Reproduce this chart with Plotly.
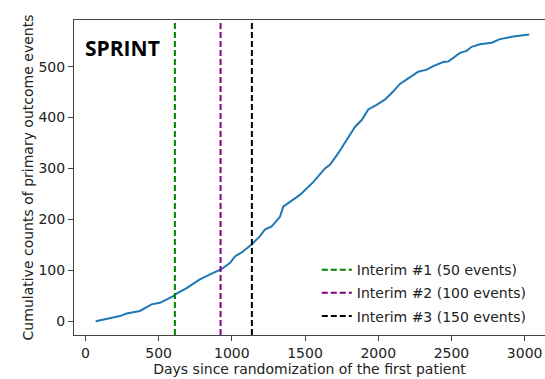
import plotly.graph_objects as go

# Cumulative primary-outcome events by study day
days = [70, 236, 281, 372, 452, 509, 600, 611, 691, 782, 873, 923, 987, 1021,
        1067, 1089, 1137, 1192, 1226, 1272, 1329, 1351, 1397, 1443, 1465, 1556,
        1636, 1670, 1727, 1784, 1842, 1887, 1932, 1989, 2045, 2102, 2148, 2205,
        2273, 2331, 2376, 2444, 2478, 2558, 2604, 2638, 2695, 2775, 2831, 2922,
        3031]
events = [0, 10, 15, 20, 33, 36, 49, 52, 65, 82, 95, 101, 114, 127,
          135, 140, 151, 167, 180, 186, 205, 225, 235, 245, 248, 273,
          300, 307, 330, 356, 382, 395, 416, 425, 435, 451, 466, 477,
          490, 494, 501, 509, 510, 527, 531, 539, 544, 547, 554, 559,
          563]

# Interim analyses
interim_days = [611, 923, 1137]
interim_names = ["Interim #1 (50 events)", "Interim #2 (100 events)",
                 "Interim #3 (150 events)"]
interim_colors = ["green", "purple", "black"]

x_range = [-78, 3139]
y_range = [-27.2, 591.6]

FONT = "DejaVu Sans"
FS = 14

fig = go.Figure()
fig.add_trace(go.Scatter(x=days, y=events, mode="lines",
                         line=dict(color="#1f77b4", width=2),
                         showlegend=False))

for d, name, col in zip(interim_days, interim_names, interim_colors):
    fig.add_trace(go.Scatter(x=[d, d], y=y_range, mode="lines", name=name,
                             legendgroup=name,
                             line=dict(color=col, width=2, dash="6px,3px")))

fig.add_annotation(text="<b>SPRINT</b>", x=0.019, y=0.911, xref="paper",
                   yref="paper", xanchor="left", yanchor="middle",
                   showarrow=False,
                   font=dict(family="Open Sans", size=21, color="black"))

axis_common = dict(showgrid=False, zeroline=False, showline=True,
                   linecolor="#444", linewidth=1, ticks="outside", ticklen=5,
                   tickwidth=1, tickcolor="#444",
                   tickfont=dict(family=FONT, size=FS, color="#222"))

fig.update_xaxes(range=x_range, tickvals=[0, 500, 1000, 1500, 2000, 2500, 3000],
                 mirror=True,
                 title=dict(text="Days since randomization of the first patient",
                            font=dict(family=FONT, size=FS, color="#222"),
                            standoff=4),
                 **axis_common)
fig.update_yaxes(range=y_range, tickvals=[0, 100, 200, 300, 400, 500],
                 title=dict(text="Cumulative counts of primary outcome events",
                            font=dict(family=FONT, size=FS, color="#222"),
                            standoff=1),
                 **axis_common)

fig.update_layout(
    width=545, height=379,
    margin=dict(l=74, r=0, t=20, b=43.5),
    plot_bgcolor="white", paper_bgcolor="white",
    legend=dict(x=0.5155, y=0.257, xanchor="left", yanchor="top",
                bgcolor="rgba(255,255,255,0.8)", tracegroupgap=2,
                font=dict(family=FONT, size=FS, color="#222")),
)

fig.write_html("out.html")
